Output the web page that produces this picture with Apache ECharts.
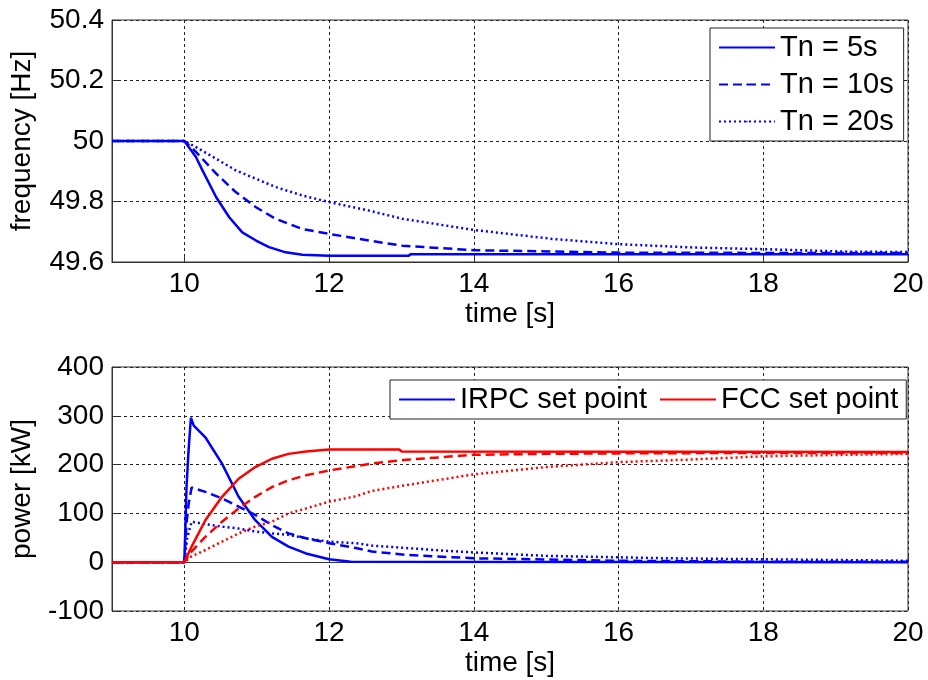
<!DOCTYPE html>
<html>
<head>
<meta charset="utf-8">
<script src="https://cdn.jsdelivr.net/npm/echarts@6/dist/echarts.min.js"></script>
<style>
  html, body { margin: 0; padding: 0; background: #fff; }
  #chart { width: 928px; height: 680px; }
</style>
</head>
<body>
<div id="chart"></div>
<script>
// x ticks (time in s)
var timeTicks = [10, 12, 14, 16, 18, 20];

// frequency [Hz], one curve per Tn
var tn5Time = [9, 10, 10.16, 10.25, 10.44, 10.62, 10.8, 10.99, 11.17, 11.4, 11.63, 12, 13.1, 13.13, 20];
var tn5Freq = [50, 50, 49.947, 49.903, 49.814, 49.748, 49.698, 49.671, 49.649, 49.632, 49.624, 49.621, 49.621, 49.626, 49.626];
var tn10Time = [9, 10, 10.16, 10.44, 10.71, 10.99, 11.26, 11.63, 12, 12.55, 13.01, 14, 16, 18, 20];
var tn10Freq = [50, 50, 49.964, 49.892, 49.831, 49.781, 49.743, 49.709, 49.693, 49.671, 49.654, 49.639, 49.631, 49.63, 49.63];
var tn20Time = [9, 10, 10.16, 10.44, 10.71, 10.99, 11.26, 11.63, 12, 12.55, 13.01, 14, 15.1, 16, 17.03, 18.06, 19.19, 20];
var tn20Freq = [50, 50, 49.98, 49.941, 49.903, 49.875, 49.848, 49.82, 49.798, 49.77, 49.743, 49.706, 49.676, 49.659, 49.648, 49.642, 49.634, 49.633];

// power [kW], IRPC set point
var irpc5Time = [9, 10, 10.03, 10.055, 10.09, 10.13, 10.29, 10.52, 10.75, 10.98, 11.21, 11.44, 11.68, 12, 12.3, 20];
var irpc5Pow = [0, 0, 154, 222, 296, 280, 256, 202, 134, 86, 52, 32, 18, 6, 1, 0];
var irpc10Time = [9, 10, 10.03, 10.06, 10.1, 10.29, 10.52, 10.75, 10.98, 11.21, 11.44, 11.68, 12, 12.37, 12.59, 13.07, 14, 16, 18, 20];
var irpc10Pow = [0, 0, 80, 120, 153, 144, 131, 114, 97, 76, 59, 49, 39, 29, 22, 15, 8, 3, 1, 1];
var irpc20Time = [9, 10, 10.04, 10.1, 10.29, 10.52, 10.75, 10.98, 11.21, 11.44, 11.68, 12, 12.37, 12.59, 13.55, 14, 15, 16, 16.7, 18, 20];
var irpc20Pow = [0, 0, 50, 83, 78, 73, 69, 63, 59, 56, 49, 42, 39, 34, 24, 20, 13, 10, 8, 6, 3];

// power [kW], FCC set point
var fcc5Time = [9, 10, 10.1, 10.29, 10.52, 10.75, 10.98, 11.21, 11.44, 11.68, 12, 12.97, 13.0, 20];
var fcc5Pow = [0, 0, 32, 86, 134, 171, 195, 212, 222, 227, 231, 231, 227, 226];
var fcc10Time = [9, 10, 10.1, 10.29, 10.52, 10.75, 10.98, 11.21, 11.44, 11.68, 12, 12.37, 12.59, 13.07, 14, 15, 16, 18, 20];
var fcc10Pow = [0, 0, 22, 52, 83, 110, 134, 154, 168, 178, 188, 197, 202, 210, 220, 222, 223, 224, 224];
var fcc20Time = [9, 10, 10.1, 10.29, 10.52, 10.75, 10.98, 11.21, 11.44, 11.68, 12, 12.37, 12.59, 13.07, 14, 15, 16, 16.93, 18, 19.1, 20];
var fcc20Pow = [0, 0, 12, 25, 42, 59, 73, 83, 100, 110, 124, 135, 146, 158, 180, 195, 205, 210, 217, 220, 222];

var FONT = '"Liberation Sans", Arial, sans-serif';
var BLUE = '#0000ff';
var RED = '#ff0000';
var DASH = [9, 5];
var DOT = [2, 3];

function pairs(t, v) {
  return t.map(function (x, i) { return [x, v[i]]; });
}

function line(name, idx, t, v, color, type) {
  return {
    name: name,
    type: 'line',
    xAxisIndex: idx,
    yAxisIndex: idx,
    data: pairs(t, v),
    symbol: 'none',
    lineStyle: { color: color, width: 2.5, type: type },
    itemStyle: { color: color },
    z: color === RED ? 3 : 2
  };
}

function xAx(idx) {
  return {
    type: 'value',
    gridIndex: idx,
    min: 9,
    max: 20,
    name: 'time [s]',
    nameLocation: 'middle',
    nameGap: 38,
    nameTextStyle: { fontFamily: FONT, fontSize: 28, color: '#000' },
    axisLine: { lineStyle: { color: '#333', width: 1 } },
    axisTick: { inside: true, length: 6, customValues: timeTicks, lineStyle: { color: '#333' } },
    axisLabel: { customValues: timeTicks, margin: 8, fontFamily: FONT, fontSize: 28, color: '#000' },
    splitLine: { show: true, lineStyle: { color: '#222', type: [3, 3], width: 1 } }
  };
}

function yAx(idx, name, min, max, step, fmt) {
  return {
    type: 'value',
    gridIndex: idx,
    min: min,
    max: max,
    interval: step,
    name: name,
    nameLocation: 'middle',
    nameGap: 76,
    nameTextStyle: { fontFamily: FONT, fontSize: 28, color: '#000' },
    axisLine: { show: true, lineStyle: { color: '#333', width: 1 } },
    axisTick: { show: true, inside: true, length: 6, lineStyle: { color: '#333' } },
    axisLabel: { margin: 8, fontFamily: FONT, fontSize: 28, color: '#000', formatter: fmt },
    splitLine: { show: true, lineStyle: { color: '#222', type: [3, 3], width: 1 } }
  };
}

var chart = echarts.init(document.getElementById('chart'), null, { renderer: 'canvas' });
chart.setOption({
  animation: false,
  backgroundColor: '#fff',
  grid: [
    { left: 110, top: 20, width: 798, height: 242, show: true, borderColor: '#333', borderWidth: 1 },
    { left: 110, top: 367, width: 798, height: 244, show: true, borderColor: '#333', borderWidth: 1 }
  ],
  xAxis: [xAx(0), xAx(1)],
  yAxis: [
    yAx(0, 'frequency [Hz]', 49.6, 50.4, 0.2, function (v) { return String(Number(v.toFixed(1))); }),
    yAx(1, 'power [kW]', -100, 400, 100, function (v) { return String(v); })
  ],
  legend: [
    {
      data: ['Tn = 5s', 'Tn = 10s', 'Tn = 20s'],
      orient: 'vertical',
      left: 710,
      top: 28,
      itemWidth: 56,
      itemHeight: 2,
      itemGap: 8,
      padding: [5, 10, 5, 8],
      borderColor: '#222',
      borderWidth: 1,
      backgroundColor: '#fff',
      textStyle: { fontFamily: FONT, fontSize: 29, color: '#000' }
    },
    {
      data: ['IRPC set point', 'FCC set point'],
      orient: 'horizontal',
      left: 390,
      top: 380,
      itemWidth: 56,
      itemHeight: 2,
      itemGap: 12,
      padding: [5, 8, 5, 8],
      borderColor: '#222',
      borderWidth: 1,
      backgroundColor: '#fff',
      textStyle: { fontFamily: FONT, fontSize: 29, color: '#000' }
    }
  ],
  series: [
    line('Tn = 5s', 0, tn5Time, tn5Freq, BLUE, 'solid'),
    line('Tn = 10s', 0, tn10Time, tn10Freq, BLUE, DASH),
    line('Tn = 20s', 0, tn20Time, tn20Freq, BLUE, DOT),
    line('IRPC set point', 1, irpc5Time, irpc5Pow, BLUE, 'solid'),
    line('IRPC set point', 1, irpc10Time, irpc10Pow, BLUE, DASH),
    line('IRPC set point', 1, irpc20Time, irpc20Pow, BLUE, DOT),
    line('FCC set point', 1, fcc5Time, fcc5Pow, RED, 'solid'),
    line('FCC set point', 1, fcc10Time, fcc10Pow, RED, DASH),
    line('FCC set point', 1, fcc20Time, fcc20Pow, RED, DOT)
  ]
});
</script>
</body>
</html>
